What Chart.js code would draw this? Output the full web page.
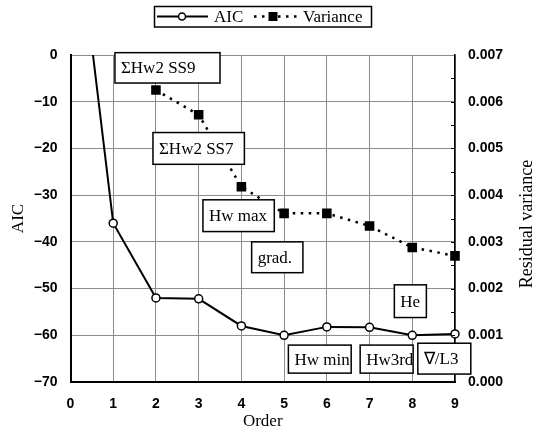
<!DOCTYPE html>
<html>
<head>
<meta charset="utf-8">
<script src="https://cdn.jsdelivr.net/npm/chart.js@4/dist/chart.umd.min.js"></script>
<style>
  html, body { margin: 0; padding: 0; background: #fff; }
  canvas { display: block; }
</style>
</head>
<body>
<canvas id="grafico" width="541" height="440"></canvas>
<script>
// dados
const ordens = [0, 1, 2, 3, 4, 5, 6, 7, 8, 9];
const aic = [40, -36, -52, -52.2, -58, -60, -58.2, -58.3, -60, -59.7];
const ordensVar = [2, 3, 4, 5, 6, 7, 8, 9];
const variancia = [0.00625, 0.00572, 0.00418, 0.00361, 0.00361, 0.00334, 0.00288, 0.0027];

const ticksAic = [0, -10, -20, -30, -40, -50, -60, -70];
const ticksVar = [0, 0.001, 0.002, 0.003, 0.004, 0.005, 0.006, 0.007];

// caixas de texto: [texto, x0, x1, y0, y1] em unidades de ordem / AIC
const caixas = [
  ["\u03A3Hw2 SS9", 1.04, 3.50, 0.5, -6.0],
  ["\u03A3Hw2 SS7", 1.93, 4.07, -16.6, -23.4],
  ["Hw max", 3.10, 4.77, -31.0, -37.8],
  ["grad.", 4.24, 5.44, -40.0, -46.6],
  ["He", 7.58, 8.33, -49.2, -56.2],
  ["Hw min", 5.10, 6.57, -62.1, -68.1],
  ["Hw3rd", 6.78, 8.02, -62.1, -68.1],
  ["\u2207/L3", 8.13, 9.37, -61.7, -68.3]
];

const serif = '"Liberation Serif", "Times New Roman", serif';
const cinza = '#8c8c8c';

const pontosAic = ordens.map((x, i) => ({ x: x, y: aic[i] }));
const pontosVar = ordensVar.map((x, i) => ({ x: x, y: variancia[i] }));

const caixasPlugin = {
  id: 'caixas',
  afterDatasetsDraw(chart) {
    const ctx = chart.ctx;
    const sx = chart.scales.x, sy = chart.scales.y, sv = chart.scales.y1;
    ctx.save();
    // marcas internas do eixo direito
    ctx.strokeStyle = '#000';
    ctx.lineWidth = 1;
    for (let v = 0.0005; v < 0.007; v += 0.0005) {
      const py = Math.round(sv.getPixelForValue(v)) + 0.5;
      ctx.beginPath();
      ctx.moveTo(sx.right, py);
      ctx.lineTo(sx.right - 4, py);
      ctx.stroke();
    }
    ctx.font = '17px ' + serif;
    ctx.textBaseline = 'middle';
    ctx.textAlign = 'left';
    caixas.forEach(([txt, x0, x1, y0, y1]) => {
      const l = sx.getPixelForValue(x0), r = sx.getPixelForValue(x1);
      const t = sy.getPixelForValue(y0), b = sy.getPixelForValue(y1);
      ctx.fillStyle = '#fff';
      ctx.fillRect(l, t, r - l, b - t);
      ctx.lineWidth = 1.5;
      ctx.strokeStyle = '#000';
      ctx.strokeRect(l, t, r - l, b - t);
      ctx.fillStyle = '#000';
      ctx.fillText(txt, l + 6, (t + b) / 2 + 1);
    });
    ctx.restore();
  },
  afterDraw(chart) {
    const ctx = chart.ctx;
    ctx.save();
    // titulo do eixo direito, lido de baixo para cima
    ctx.font = '18px ' + serif;
    ctx.fillStyle = '#000';
    ctx.textAlign = 'center';
    ctx.textBaseline = 'middle';
    ctx.translate(527, 224);
    ctx.rotate(-Math.PI / 2);
    ctx.fillText('Residual variance', 0, 0);
    ctx.restore();

    // legenda
    ctx.save();
    ctx.fillStyle = '#fff';
    ctx.fillRect(154.5, 6.5, 217, 20.5);
    ctx.strokeStyle = '#000';
    ctx.lineWidth = 1.5;
    ctx.strokeRect(154.5, 6.5, 217, 20.5);
    const yl = 16.5;
    ctx.lineWidth = 2;
    ctx.beginPath();
    ctx.moveTo(157, yl);
    ctx.lineTo(208, yl);
    ctx.stroke();
    ctx.beginPath();
    ctx.arc(182, yl, 3.5, 0, Math.PI * 2);
    ctx.fillStyle = '#fff';
    ctx.fill();
    ctx.lineWidth = 1.5;
    ctx.stroke();
    ctx.setLineDash([2.5, 5.5]);
    ctx.lineWidth = 2.5;
    ctx.beginPath();
    ctx.moveTo(254, yl);
    ctx.lineTo(300, yl);
    ctx.stroke();
    ctx.setLineDash([]);
    ctx.fillStyle = '#000';
    ctx.fillRect(268.5, yl - 4.5, 9, 9);
    ctx.font = '17px ' + serif;
    ctx.textBaseline = 'middle';
    ctx.fillText('AIC', 214, yl + 1);
    ctx.fillText('Variance', 303, yl + 1);
    ctx.restore();
  }
};

new Chart(document.getElementById('grafico'), {
  type: 'line',
  data: {
    datasets: [{
      label: 'AIC',
      data: pontosAic,
      yAxisID: 'y',
      borderColor: '#000',
      borderWidth: 2,
      backgroundColor: '#fff',
      pointBackgroundColor: '#fff',
      pointBorderColor: '#000',
      pointBorderWidth: 1.5,
      pointRadius: 4,
      tension: 0,
      clip: { left: 0, top: 0, right: 8, bottom: 8 }
    }, {
      label: 'Variance',
      data: pontosVar,
      yAxisID: 'y1',
      borderColor: '#000',
      borderWidth: 2.5,
      borderDash: [2.5, 5.5],
      pointStyle: 'rect',
      pointBackgroundColor: '#000',
      pointBorderColor: '#000',
      pointRadius: 5,
      tension: 0,
      clip: false
    }]
  },
  options: {
    responsive: false,
    animation: false,
    layout: { padding: { left: 8, right: 4, top: 55, bottom: 8 } },
    plugins: { legend: { display: false }, tooltip: { enabled: false } },
    scales: {
      x: {
        type: 'linear', min: 0, max: 9,
        afterFit: s => { s.height = 50; },
        ticks: {
          stepSize: 1, padding: 14, color: '#000',
          font: { family: '"Liberation Sans", Arial, sans-serif', size: 14, weight: 'bold' }
        },
        grid: { color: cinza, lineWidth: 1, drawTicks: false },
        border: { color: '#000', width: 2 },
        title: {
          display: true, text: 'Order', color: '#000',
          font: { family: serif, size: 17 }, padding: 0
        }
      },
      y: {
        position: 'left', min: -70, max: 0,
        afterFit: s => { s.width = 62.5; },
        afterBuildTicks: s => { s.ticks = ticksAic.map(v => ({ value: v })); },
        ticks: {
          padding: 13, color: '#000',
          font: { family: '"Liberation Sans", Arial, sans-serif', size: 14, weight: 'bold' },
          callback: v => v < 0 ? '\u2212' + Math.abs(v) : String(v)
        },
        grid: { color: cinza, lineWidth: 1, drawTicks: false },
        border: { color: '#000', width: 2 },
        title: {
          display: true, text: 'AIC', color: '#000',
          font: { family: serif, size: 17 }, padding: { top: 0, bottom: 14 }
        }
      },
      y1: {
        position: 'right', min: 0, max: 0.007,
        afterFit: s => { s.width = 82; },
        afterBuildTicks: s => { s.ticks = ticksVar.map(v => ({ value: v })); },
        ticks: {
          padding: 13, color: '#000',
          font: { family: '"Liberation Sans", Arial, sans-serif', size: 14, weight: 'bold' },
          callback: v => v.toFixed(3)
        },
        grid: { drawOnChartArea: false, drawTicks: false },
        border: { color: '#000', width: 1.5 }
      }
    }
  },
  plugins: [caixasPlugin]
});
</script>
</body>
</html>
